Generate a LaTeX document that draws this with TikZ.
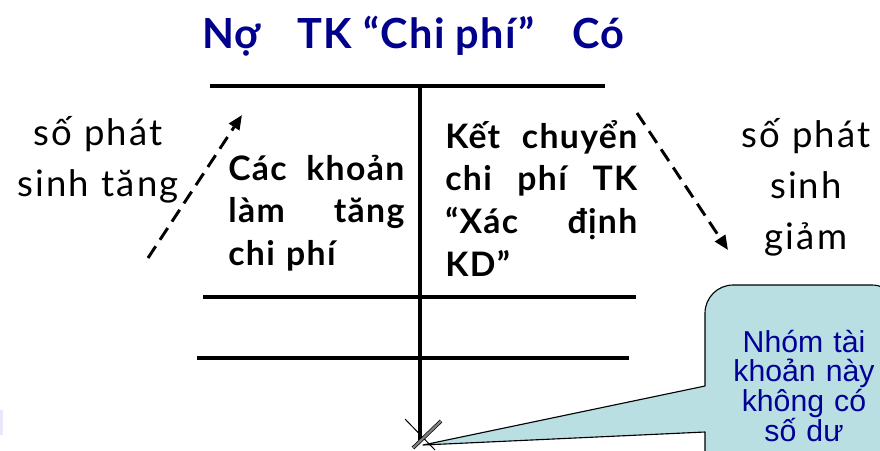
\documentclass[tikz,border=0pt]{standalone}
\usepackage{fontspec}
\setmainfont{Lato}[LetterSpace=3]
\newfontfamily\notefont{Liberation Sans}
\usepackage{xcolor}
\usetikzlibrary{arrows.meta, positioning, calc}

\definecolor{titleblue}{RGB}{0,0,140}
\definecolor{noteblue}{RGB}{0,0,150}
\definecolor{notefill}{RGB}{185,223,227}
\definecolor{edgemark}{RGB}{232,232,250}

% Zeile auf volle Breite strecken (Blocksatz)
\newcommand{\fullline}[2]{\makebox[#1][s]{#2}}

\begin{document}
\begin{tikzpicture}[x=0.025cm, y=-0.025cm, line join=round,
    tline/.style={line width=2.2pt, black},
    flow/.style={-{Triangle[length=3.6mm, width=3mm]}, line width=2.1pt, dash pattern=on 10pt off 5.5pt},
    entry/.style={anchor=base west, inner sep=0pt, font=\fontsize{24}{30.5}\selectfont\bfseries\addfontfeatures{LetterSpace=4}},
    side/.style={anchor=base, inner sep=0pt, text width=6cm, align=center, font=\fontsize{26}{36.5}\selectfont\addfontfeatures{LetterSpace=6}},
    heading/.style={inner sep=0pt, text=titleblue, font=\fontsize{29.5}{30}\selectfont\bfseries}]
    \useasboundingbox (0,0) rectangle (880,450);
    \clip (0,0) rectangle (880,450);
    % Kontenkopf
    \node[heading, anchor=base west] (debit) at (202,48) {Nợ};
    \node[heading, anchor=base] (acct) at (416,48) {TK “Chi phí”};
    \node[heading, anchor=base east] (credit) at (625,48) {Có};
    % T-Konto
    \coordinate (top) at (420,86);
    \coordinate (foot) at (420,440);
    \draw[tline] (210,86) -- (605,86);
    \draw[tline] (top) -- (foot);
    \draw[tline] (203,297) -- (636,297);
    \draw[tline] (197,358) -- (629,358);
    % Eintraege
    \node[entry, text width=4.4cm] (incr) at (228,180)
        {\fullline{4.4cm}{Các\hfill khoản}\\ \fullline{4.4cm}{làm\hfill tăng}\\ chi phí};
    \node[entry, text width=4.8cm] (transfer) at (445,148)
        {\fullline{4.8cm}{Kết\hfill chuyển}\\ \fullline{4.8cm}{chi\hfill phí\hfill TK}\\
         \fullline{4.8cm}{“Xác\hfill định}\\ KD”};
    % Seitenbeschriftungen
    \node[side] (inclabel) at (98,145) {số phát\\sinh tăng};
    \node[side] (declabel) at (806,147) {số phát\\sinh\\giảm};
    % gestrichelte Pfeile
    \coordinate (incS) at (148,258);
    \coordinate (incE) at (242,115);
    \coordinate (decS) at (637,113);
    \coordinate (decE) at (728,250);
    \draw[flow] (incS) -- (incE);
    \draw[flow] (decS) -- (decE);
    % Sprechblase
    \coordinate (tip) at (423,445);
    \draw[fill=notefill, line width=0.8pt] (705,386) [rounded corners=20pt] -- (705,285) -- (900,285)
        [sharp corners] -- (900,470) -- (705,470) -- (705,432) -- (tip) -- cycle;
    \node[anchor=base, inner sep=0pt, text width=4.5cm, align=center, text=noteblue,
        font=\notefont\fontsize{21.5}{21.3}\selectfont] (note) at (804,352) {Nhóm tài\\khoản này\\không có\\số dư};
    % Kreuz am Fusspunkt
    \draw[line width=0.7pt] (405,419) -- (435,450);
    \draw[line width=0.5pt, double=gray, double distance=1.6pt] (413,448) -- (441,421);
    % Randmarke links
    \fill[edgemark] (0,410) rectangle (3,435);
\end{tikzpicture}
\end{document}
